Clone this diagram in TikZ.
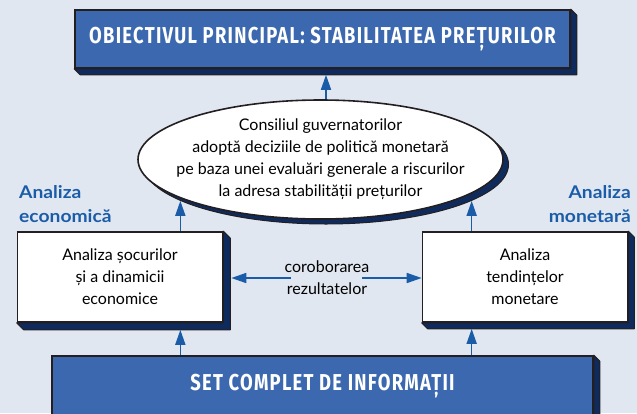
\documentclass[tikz,border=0pt]{standalone}
\usepackage{fontspec}
\setmainfont{Lato}
\newfontfamily\headfont[FakeStretch=0.8,LetterSpace=5.5]{Fira Sans}
\newfontfamily\labelfont[FakeStretch=1.1]{Lato}
\usetikzlibrary{calc,shapes.geometric,arrows.meta}
\definecolor{bgblue}{HTML}{E1E7F0}
\definecolor{boxblue}{HTML}{3B68AF}
\definecolor{navy}{HTML}{0F2B5E}
\definecolor{arrowblue}{HTML}{1B5CA8}
\definecolor{edge}{HTML}{231F20}

\begin{document}
\begin{tikzpicture}[x=1pt,y=-1pt]
	\tikzstyle{headbox}=[draw=edge,line width=1.6pt,fill=boxblue,text=white,font=\headfont\bfseries\fontsize{23}{26}\selectfont,inner sep=0pt]
	\tikzstyle{whitebox}=[draw=edge,line width=1.6pt,fill=white,align=center,minimum width=205pt,minimum height=90pt,inner sep=0pt,font=\fontsize{16}{22}\selectfont]
	\tikzstyle{extrusion}=[fill=navy,draw=edge,line width=1pt,line join=round]
	\tikzstyle{arr}=[arrowblue,line width=1.6pt,-{Triangle[length=15pt,width=10pt]}]
	\tikzstyle{sidelabel}=[text=arrowblue,font=\labelfont\bfseries\fontsize{17.5}{24}\selectfont,inner sep=0pt]
	\tikzstyle{oval}=[ellipse,minimum width=365pt,minimum height=119pt,inner sep=0pt]

	\useasboundingbox (0,0) rectangle (637,413);
	\fill[bgblue] (0,0) rectangle (637,413);										% Hintergrund
	\clip (0,0) rectangle (637,413);

	\node (goal) [headbox,minimum width=495pt,minimum height=58pt] at (322.5,39) {OBIECTIVUL PRINCIPAL: STABILITATEA PREȚURILOR};

	\node (councilShadow) [oval,fill=navy,draw=edge,line width=1pt] at (326,164.5) {};	% Schatten
	\node (council) [oval,fill=white,draw=edge,line width=1.6pt] at (320.5,159.5) {};
	\node (councilText) [align=center,inner sep=0pt,font=\fontsize{16}{22}\selectfont] at (council) {Consiliul guvernatorilor\\ adoptă deciziile de politică monetară\\ pe baza unei evaluări generale a riscurilor\\ la adresa stabilității prețurilor};

	\node (econ) [whitebox] at (120,277) {Analiza șocurilor\\ și a dinamicii\\ economice};
	\node (monet) [whitebox] at (525,277) {Analiza\\ tendințelor\\ monetare};
	\node (info) [headbox,minimum width=541pt,minimum height=60pt] at (322.5,386) {SET COMPLET DE INFORMAȚII};

	\foreach \n/\d in {goal/6,econ/7,monet/6,info/6}
		\draw[extrusion] (\n.north east) -- ++(\d,\d) -- ($(\n.south east)+(\d,\d)$) -- ($(\n.south west)+(\d,\d)$) -- (\n.south west) -- (\n.south east) -- cycle;

	\node (econLabel) [sidelabel,align=left,anchor=north west] at (19,185) {Analiza\\ economică};
	\node (monetLabel) [sidelabel,align=right,anchor=north east] at (631,185) {Analiza\\ monetară};

	\node (corob) [align=center,inner sep=0pt,font=\fontsize{16}{22}\selectfont] at (327,278) {coroborarea\\ rezultatelor};

	\draw[arr] ([xshift=5.5pt]council.north) -- ([xshift=3.5pt,yshift=-6pt]goal.south);	% zum Ziel
	\draw[arr] (econ.north -| councilShadow.194) -- (councilShadow.194);
	\draw[arr] (monet.north -| councilShadow.346.5) -- (councilShadow.346.5);
	\draw[arr] (info.north -| councilShadow.194) -- ($(econ.south -| councilShadow.194)+(0,7)$);
	\draw[arr] (info.north -| councilShadow.346.5) -- ($(monet.south -| councilShadow.346.5)+(0,6)$);
	\draw[arr] ([xshift=-36pt]corob.center) -- ($(econ.east |- corob.center)+(8,0)$);		% Vergleich
	\draw[arr] ([xshift=35pt]corob.center) -- (monet.west |- corob.center);
\end{tikzpicture}
\end{document}
